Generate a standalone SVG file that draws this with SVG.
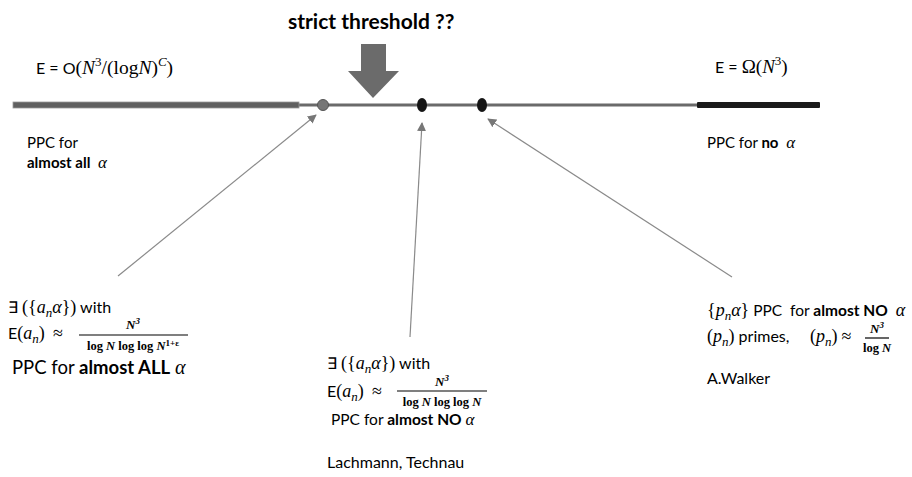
<svg xmlns="http://www.w3.org/2000/svg" width="912" height="477" viewBox="0 0 912 477">
<defs>
<style>
.t{font-family:Lato,"Liberation Sans",sans-serif;font-size:16px;fill:#000;white-space:pre}
.b{font-weight:bold}
.m{font-family:"Liberation Serif","DejaVu Serif",serif;font-size:18px}
.i{font-family:"Liberation Serif","DejaVu Serif",serif;font-style:italic;font-size:18px}
.s{font-size:13px}
.fr{font-family:"Liberation Serif","DejaVu Serif",serif;font-weight:bold;font-size:12.5px;white-space:pre}
.conn{stroke:#8a8a8a;stroke-width:1.2;fill:none;marker-end:url(#ah)}
</style>
<marker id="ah" viewBox="0 0 10 10" refX="9" refY="5" markerWidth="9" markerHeight="9" orient="auto" markerUnits="userSpaceOnUse">
<path d="M0,0 L10,5 L0,10 z" fill="#777"/>
</marker>
</defs>
<rect width="912" height="477" fill="#fff"/>

<g id="axis">
<line x1="298" y1="105" x2="700" y2="105" stroke="#6a6a6a" stroke-width="3"/>
<rect x="13" y="102" width="286" height="6" fill="#606060" stroke="#9a9a9a" stroke-width="0.8"/>
<rect x="697" y="102" width="123" height="6" rx="1" fill="#1a1a1a"/>
</g>

<g id="threshold">
<text x="288" y="29" class="t b" style="font-size:21px">strict threshold ??</text>
<path d="M361,44 H386 V71 H399 L373,98 L348,71 H361 Z" fill="#6b6b6b"/>
</g>

<g id="point-gray"><ellipse cx="323" cy="105" rx="5.5" ry="5.5" fill="#777" stroke="#555" stroke-width="1"/></g>
<g id="point-lt"><ellipse cx="422" cy="105" rx="5" ry="7" fill="#151515"/></g>
<g id="point-w"><ellipse cx="482" cy="105" rx="5" ry="7" fill="#151515"/></g>

<g id="connectors">
<line class="conn" x1="118" y1="276" x2="316" y2="115"/>
<line class="conn" x1="410" y1="337" x2="422" y2="123"/>
<line class="conn" x1="732" y1="277" x2="488" y2="119"/>
</g>

<g id="left-region">
<text x="36" y="74" class="t">E = O<tspan class="m" style="font-size:19.5px">(</tspan><tspan class="i" style="font-size:19.5px">N</tspan><tspan class="m s" dy="-8">3</tspan><tspan class="m" style="font-size:19.5px" dy="8">/(log</tspan><tspan class="i" style="font-size:19.5px">N</tspan><tspan class="m" style="font-size:19.5px">)</tspan><tspan class="i s" dy="-8">C</tspan><tspan class="m" style="font-size:19.5px" dy="8">)</tspan></text>
<text x="27" y="148" class="t" style="font-size:15px">PPC for</text>
<text x="27" y="168" class="t" style="font-size:15px"><tspan class="b">almost all</tspan>  <tspan class="i" style="font-size:17px">α</tspan></text>
</g>

<g id="right-region">
<text x="715" y="73" class="t">E = <tspan class="m" style="font-size:19px">Ω(</tspan><tspan class="i" style="font-size:19px">N</tspan><tspan class="m s" dy="-8">3</tspan><tspan class="m" style="font-size:19px" dy="8">)</tspan></text>
<text x="707" y="148" class="t" style="font-size:15px">PPC for <tspan class="b">no</tspan>  <tspan class="i" style="font-size:17px">α</tspan></text>
</g>

<g id="result-left">
<text x="8" y="313" class="t">∃ <tspan class="m">({</tspan><tspan class="i">a</tspan><tspan class="i s" dy="4">n</tspan><tspan class="i" dy="-4">α</tspan><tspan class="m">})</tspan> with</text>
<text x="8" y="339" class="t">E<tspan class="m">(</tspan><tspan class="i">a</tspan><tspan class="i s" dy="4">n</tspan><tspan class="m" dy="-4">)</tspan>  <tspan class="m">≈</tspan></text>
<text x="133" y="329" class="fr" text-anchor="middle" style="font-size:13px;font-style:italic">N<tspan style="font-size:9px" dy="-5">3</tspan></text>
<line x1="79" y1="335" x2="188" y2="335" stroke="#000" stroke-width="1.2"/>
<text x="133" y="350" class="fr" text-anchor="middle">log <tspan font-style="italic">N</tspan> log log <tspan font-style="italic">N</tspan><tspan style="font-size:9px" dy="-4">1+ε</tspan></text>
<text x="12" y="374" class="t" style="font-size:18.5px">PPC for <tspan class="b">almost ALL</tspan> <tspan class="i" style="font-size:20px">α</tspan></text>
</g>

<g id="result-mid">
<text x="327" y="369" class="t">∃ <tspan class="m">({</tspan><tspan class="i">a</tspan><tspan class="i s" dy="4">n</tspan><tspan class="i" dy="-4">α</tspan><tspan class="m">})</tspan> with</text>
<text x="327" y="397" class="t">E<tspan class="m">(</tspan><tspan class="i">a</tspan><tspan class="i s" dy="4">n</tspan><tspan class="m" dy="-4">)</tspan>  <tspan class="m">≈</tspan></text>
<text x="442" y="386" class="fr" text-anchor="middle" style="font-size:13px;font-style:italic">N<tspan style="font-size:9px" dy="-5">3</tspan></text>
<line x1="397" y1="391" x2="487" y2="391" stroke="#000" stroke-width="1.2"/>
<text x="442" y="406" class="fr" text-anchor="middle">log <tspan font-style="italic">N</tspan> log log <tspan font-style="italic">N</tspan></text>
<text x="331" y="425" class="t" style="font-size:15.5px">PPC for <tspan class="b">almost NO</tspan> <tspan class="i" style="font-size:17px">α</tspan></text>
<text x="327" y="468" class="t">Lachmann, Technau</text>
</g>

<g id="result-right">
<text x="707" y="316" class="t" style="font-size:15.5px"><tspan class="m">{</tspan><tspan class="i">p</tspan><tspan class="i s" dy="4">n</tspan><tspan class="i" dy="-4">α</tspan><tspan class="m">}</tspan> PPC  for <tspan class="b">almost NO</tspan>  <tspan class="i">α</tspan></text>
<text x="707" y="342" class="t"><tspan class="m">(</tspan><tspan class="i">p</tspan><tspan class="i s" dy="4">n</tspan><tspan class="m" dy="-4">)</tspan> primes,</text>
<text x="810" y="342" class="t"><tspan class="m">(</tspan><tspan class="i">p</tspan><tspan class="i s" dy="4">n</tspan><tspan class="m" dy="-4">)</tspan> <tspan class="m">≈</tspan></text>
<text x="877" y="333" class="fr" text-anchor="middle" style="font-size:13px;font-style:italic">N<tspan style="font-size:9px" dy="-5">3</tspan></text>
<line x1="865" y1="338" x2="889" y2="338" stroke="#000" stroke-width="1.2"/>
<text x="877" y="352" class="fr" text-anchor="middle">log <tspan font-style="italic">N</tspan></text>
<text x="707" y="384" class="t">A.Walker</text>
</g>
</svg>
